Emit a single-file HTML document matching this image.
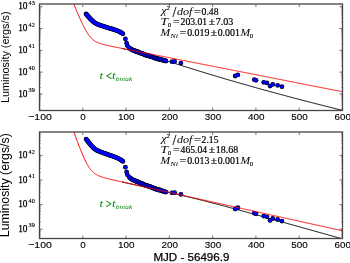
<!DOCTYPE html>
<html><head><meta charset="utf-8"><style>
html,body{margin:0;padding:0;background:#fff;width:350px;height:263px;overflow:hidden}
svg{display:block;will-change:transform}
</style></head><body>
<svg width="350" height="263" viewBox="0 0 350 263">
<style>
.tl { font-family: "Liberation Sans", sans-serif; font-size: 9.5px; fill:#000; stroke:#000; stroke-width:0.12px; }
.tls { font-family: "Liberation Serif", serif; font-size: 9.3px; fill:#000; stroke:#000; stroke-width:0.25px; }
.sup { font-family: "Liberation Serif", serif; font-size: 6.2px; fill:#000; stroke:#000; stroke-width:0.15px; }
.ann { font-family: "Liberation Serif", serif; fill:#000; stroke:#000; stroke-width:0.2px; }
.grn { font-family: "Liberation Serif", serif; fill:#008000; }
.yl { font-family: "Liberation Sans", sans-serif; fill:#000; }
text { -webkit-font-smoothing: antialiased; }
</style>
<rect width="350" height="263" fill="#fff"/>
<clipPath id="c1"><rect x="39.5" y="4.0" width="303.0" height="106.5"/></clipPath>
<g clip-path="url(#c1)">
<path d="M121.74,48.41 L122.48,48.57 L123.21,48.73 L123.95,48.89 L124.69,49.05 L125.42,49.21 L126.16,49.38 L126.89,49.55 L127.63,49.72 L128.37,49.89 L129.10,50.06 L129.84,50.23 L130.57,50.41 L131.31,50.59 L132.04,50.77 L132.78,50.96 L133.52,51.14 L134.25,51.33 L134.99,51.52 L135.72,51.71 L136.46,51.90 L137.20,52.10 L137.93,52.29 L138.67,52.49 L139.40,52.69 L140.14,52.89 L140.88,53.10 L141.61,53.30 L142.35,53.51 L143.08,53.72 L143.82,53.92 L144.55,54.14 L145.29,54.35 L146.03,54.56 L146.76,54.78 L147.50,54.99 L148.23,55.21 L148.97,55.43 L149.71,55.64 L150.44,55.86 L151.18,56.08 L151.91,56.31 L152.65,56.53 L153.38,56.75 L154.12,56.97 L154.86,57.20 L155.59,57.42 L156.33,57.65 L157.06,57.88 L157.80,58.10 L158.54,58.33 L159.27,58.56 L160.01,58.79 L160.74,59.02 L161.48,59.24 L162.22,59.47 L162.95,59.70 L163.69,59.93 L164.42,60.16 L165.16,60.40 L165.89,60.63 L166.63,60.86 L167.37,61.09 L168.10,61.32 L168.84,61.55 L169.57,61.78 L170.31,62.02 L171.05,62.25 L171.78,62.48 L172.52,62.71 L173.25,62.94 L173.99,63.18 L174.72,63.41 L175.46,63.64 L176.20,63.87 L176.93,64.10 L177.67,64.34 L178.40,64.57 L179.14,64.80 L179.88,65.03 L180.61,65.26 L181.35,65.49 L182.08,65.72 L182.82,65.96 L183.55,66.19 L184.29,66.42 L185.03,66.65 L185.76,66.88 L186.50,67.11 L187.23,67.34 L187.97,67.57 L188.71,67.80 L189.44,68.03 L190.18,68.26 L190.91,68.49 L191.65,68.72 L192.39,68.95 L193.12,69.18 L193.86,69.40 L194.59,69.63 L195.33,69.86 L196.06,70.09 L196.80,70.32 L197.54,70.54 L198.27,70.77 L199.01,71.00 L199.74,71.22 L200.48,71.45 L201.22,71.68 L201.95,71.90 L202.69,72.13 L203.42,72.35 L204.16,72.58 L204.89,72.80 L205.63,73.03 L206.37,73.25 L207.10,73.47 L207.84,73.70 L208.57,73.92 L209.31,74.14 L210.05,74.37 L210.78,74.59 L211.52,74.81 L212.25,75.03 L212.99,75.25 L213.72,75.48 L214.46,75.70 L215.20,75.92 L215.93,76.14 L216.67,76.36 L217.40,76.58 L218.14,76.80 L218.88,77.02 L219.61,77.24 L220.35,77.46 L221.08,77.67 L221.82,77.89 L222.56,78.11 L223.29,78.33 L224.03,78.54 L224.76,78.76 L225.50,78.98 L226.23,79.19 L226.97,79.41 L227.71,79.63 L228.44,79.84 L229.18,80.06 L229.91,80.27 L230.65,80.49 L231.39,80.70 L232.12,80.92 L232.86,81.13 L233.59,81.34 L234.33,81.56 L235.06,81.77 L235.80,81.98 L236.54,82.20 L237.27,82.41 L238.01,82.62 L238.74,82.83 L239.48,83.04 L240.22,83.25 L240.95,83.47 L241.69,83.68 L242.42,83.89 L243.16,84.10 L243.90,84.31 L244.63,84.52 L245.37,84.73 L246.10,84.93 L246.84,85.14 L247.57,85.35 L248.31,85.56 L249.05,85.77 L249.78,85.98 L250.52,86.18 L251.25,86.39 L251.99,86.60 L252.73,86.80 L253.46,87.01 L254.20,87.22 L254.93,87.42 L255.67,87.63 L256.40,87.83 L257.14,88.04 L257.88,88.24 L258.61,88.45 L259.35,88.65 L260.08,88.86 L260.82,89.06 L261.56,89.26 L262.29,89.47 L263.03,89.67 L263.76,89.87 L264.50,90.08 L265.24,90.28 L265.97,90.48 L266.71,90.68 L267.44,90.89 L268.18,91.09 L268.91,91.29 L269.65,91.49 L270.39,91.69 L271.12,91.89 L271.86,92.09 L272.59,92.29 L273.33,92.49 L274.07,92.69 L274.80,92.89 L275.54,93.09 L276.27,93.29 L277.01,93.49 L277.74,93.69 L278.48,93.88 L279.22,94.08 L279.95,94.28 L280.69,94.48 L281.42,94.67 L282.16,94.87 L282.90,95.07 L283.63,95.27 L284.37,95.46 L285.10,95.66 L285.84,95.86 L286.57,96.05 L287.31,96.25 L288.05,96.44 L288.78,96.64 L289.52,96.83 L290.25,97.03 L290.99,97.22 L291.73,97.42 L292.46,97.61 L293.20,97.81 L293.93,98.00 L294.67,98.19 L295.41,98.39 L296.14,98.58 L296.88,98.77 L297.61,98.97 L298.35,99.16 L299.08,99.35 L299.82,99.54 L300.56,99.74 L301.29,99.93 L302.03,100.12 L302.76,100.31 L303.50,100.50 L304.24,100.69 L304.97,100.88 L305.71,101.08 L306.44,101.27 L307.18,101.46 L307.91,101.65 L308.65,101.84 L309.39,102.03 L310.12,102.22 L310.86,102.41 L311.59,102.60 L312.33,102.79 L313.07,102.97 L313.80,103.16 L314.54,103.35 L315.27,103.54 L316.01,103.73 L316.75,103.92 L317.48,104.10 L318.22,104.29 L318.95,104.48 L319.69,104.67 L320.42,104.86 L321.16,105.04 L321.90,105.23 L322.63,105.42 L323.37,105.60 L324.10,105.79 L324.84,105.98 L325.58,106.16 L326.31,106.35 L327.05,106.53 L327.78,106.72 L328.52,106.90 L329.25,107.09 L329.99,107.28 L330.73,107.46 L331.46,107.65 L332.20,107.83 L332.93,108.01 L333.67,108.20 L334.41,108.38 L335.14,108.57 L335.88,108.75 L336.61,108.93 L337.35,109.12 L338.08,109.30 L338.82,109.49 L339.56,109.67 L340.29,109.85 L341.03,110.03 L341.76,110.22 L342.50,110.40" fill="none" stroke="#000" stroke-width="1"/>
<g fill="#000">
<circle cx="86.10" cy="14.00" r="2.40"/>
<circle cx="86.73" cy="14.73" r="2.40"/>
<circle cx="87.37" cy="15.47" r="2.40"/>
<circle cx="88.00" cy="16.20" r="2.40"/>
<circle cx="88.67" cy="16.97" r="2.40"/>
<circle cx="89.33" cy="17.73" r="2.40"/>
<circle cx="90.00" cy="18.50" r="2.40"/>
<circle cx="90.67" cy="19.17" r="2.40"/>
<circle cx="91.33" cy="19.83" r="2.40"/>
<circle cx="92.00" cy="20.50" r="2.40"/>
<circle cx="92.67" cy="21.10" r="2.40"/>
<circle cx="93.33" cy="21.70" r="2.40"/>
<circle cx="94.00" cy="22.30" r="2.40"/>
<circle cx="95.00" cy="22.95" r="2.40"/>
<circle cx="96.00" cy="23.60" r="2.40"/>
<circle cx="96.75" cy="23.93" r="2.40"/>
<circle cx="97.50" cy="24.25" r="2.40"/>
<circle cx="98.25" cy="24.57" r="2.40"/>
<circle cx="99.00" cy="24.90" r="2.40"/>
<circle cx="100.00" cy="25.23" r="2.40"/>
<circle cx="101.00" cy="25.57" r="2.40"/>
<circle cx="102.00" cy="25.90" r="2.40"/>
<circle cx="103.00" cy="26.20" r="2.40"/>
<circle cx="104.00" cy="26.50" r="2.40"/>
<circle cx="105.00" cy="26.80" r="2.40"/>
<circle cx="106.00" cy="27.13" r="2.40"/>
<circle cx="107.00" cy="27.47" r="2.40"/>
<circle cx="108.00" cy="27.80" r="2.40"/>
<circle cx="109.00" cy="28.10" r="2.40"/>
<circle cx="110.00" cy="28.40" r="2.40"/>
<circle cx="111.00" cy="28.70" r="2.40"/>
<circle cx="112.00" cy="29.00" r="2.40"/>
<circle cx="113.00" cy="29.30" r="2.40"/>
<circle cx="114.00" cy="29.60" r="2.40"/>
<circle cx="115.00" cy="29.95" r="2.40"/>
<circle cx="116.00" cy="30.30" r="2.40"/>
<circle cx="117.00" cy="30.70" r="2.40"/>
<circle cx="118.00" cy="31.10" r="2.40"/>
<circle cx="119.00" cy="31.55" r="2.40"/>
<circle cx="120.00" cy="32.00" r="2.40"/>
<circle cx="120.75" cy="32.45" r="2.40"/>
<circle cx="121.50" cy="32.90" r="2.40"/>
<circle cx="122.20" cy="33.35" r="2.40"/>
<circle cx="122.90" cy="33.80" r="2.40"/>
<circle cx="125.40" cy="38.90" r="2.40"/>
<circle cx="126.60" cy="43.10" r="2.40"/>
<circle cx="127.40" cy="45.70" r="2.40"/>
<circle cx="129.40" cy="48.00" r="2.40"/>
<circle cx="130.20" cy="48.60" r="2.40"/>
<circle cx="131.00" cy="49.20" r="2.40"/>
<circle cx="132.00" cy="49.70" r="2.40"/>
<circle cx="133.00" cy="50.20" r="2.40"/>
<circle cx="134.00" cy="50.60" r="2.40"/>
<circle cx="135.00" cy="51.00" r="2.40"/>
<circle cx="136.00" cy="51.33" r="2.40"/>
<circle cx="137.00" cy="51.67" r="2.40"/>
<circle cx="138.00" cy="52.00" r="2.40"/>
<circle cx="139.00" cy="52.45" r="2.40"/>
<circle cx="140.00" cy="52.90" r="2.40"/>
<circle cx="141.00" cy="53.27" r="2.40"/>
<circle cx="142.00" cy="53.63" r="2.40"/>
<circle cx="143.00" cy="54.00" r="2.40"/>
<circle cx="144.00" cy="54.37" r="2.40"/>
<circle cx="145.00" cy="54.73" r="2.40"/>
<circle cx="146.00" cy="55.10" r="2.40"/>
<circle cx="147.00" cy="55.40" r="2.40"/>
<circle cx="148.00" cy="55.70" r="2.40"/>
<circle cx="149.00" cy="56.00" r="2.40"/>
<circle cx="150.00" cy="56.30" r="2.40"/>
<circle cx="151.00" cy="56.60" r="2.40"/>
<circle cx="152.00" cy="56.90" r="2.40"/>
<circle cx="153.00" cy="57.23" r="2.40"/>
<circle cx="154.00" cy="57.57" r="2.40"/>
<circle cx="155.00" cy="57.90" r="2.40"/>
<circle cx="156.00" cy="58.20" r="2.40"/>
<circle cx="157.00" cy="58.50" r="2.40"/>
<circle cx="158.00" cy="58.80" r="2.40"/>
<circle cx="159.00" cy="59.10" r="2.40"/>
<circle cx="160.00" cy="59.40" r="2.40"/>
<circle cx="161.00" cy="59.70" r="2.40"/>
<circle cx="162.00" cy="59.97" r="2.40"/>
<circle cx="163.00" cy="60.23" r="2.40"/>
<circle cx="164.00" cy="60.50" r="2.40"/>
<circle cx="165.00" cy="60.75" r="2.40"/>
<circle cx="166.00" cy="61.00" r="2.40"/>
<circle cx="172.00" cy="61.70" r="2.40"/>
<circle cx="174.60" cy="61.40" r="2.40"/>
<circle cx="180.90" cy="63.10" r="2.40"/>
<circle cx="235.20" cy="76.00" r="2.40"/>
<circle cx="237.85" cy="74.90" r="2.40"/>
<circle cx="254.30" cy="79.70" r="2.40"/>
<circle cx="256.00" cy="80.30" r="2.40"/>
<circle cx="263.70" cy="82.30" r="2.40"/>
<circle cx="266.90" cy="82.90" r="2.40"/>
<circle cx="270.10" cy="86.10" r="2.40"/>
<circle cx="272.70" cy="84.40" r="2.40"/>
<circle cx="277.60" cy="85.30" r="2.40"/>
<circle cx="281.90" cy="86.70" r="2.40"/>
</g>
<g fill="#0000ff">
<circle cx="86.10" cy="14.00" r="1.75"/>
<circle cx="86.73" cy="14.73" r="1.75"/>
<circle cx="87.37" cy="15.47" r="1.75"/>
<circle cx="88.00" cy="16.20" r="1.75"/>
<circle cx="88.67" cy="16.97" r="1.75"/>
<circle cx="89.33" cy="17.73" r="1.75"/>
<circle cx="90.00" cy="18.50" r="1.75"/>
<circle cx="90.67" cy="19.17" r="1.75"/>
<circle cx="91.33" cy="19.83" r="1.75"/>
<circle cx="92.00" cy="20.50" r="1.75"/>
<circle cx="92.67" cy="21.10" r="1.75"/>
<circle cx="93.33" cy="21.70" r="1.75"/>
<circle cx="94.00" cy="22.30" r="1.75"/>
<circle cx="95.00" cy="22.95" r="1.75"/>
<circle cx="96.00" cy="23.60" r="1.75"/>
<circle cx="96.75" cy="23.93" r="1.75"/>
<circle cx="97.50" cy="24.25" r="1.75"/>
<circle cx="98.25" cy="24.57" r="1.75"/>
<circle cx="99.00" cy="24.90" r="1.75"/>
<circle cx="100.00" cy="25.23" r="1.75"/>
<circle cx="101.00" cy="25.57" r="1.75"/>
<circle cx="102.00" cy="25.90" r="1.75"/>
<circle cx="103.00" cy="26.20" r="1.75"/>
<circle cx="104.00" cy="26.50" r="1.75"/>
<circle cx="105.00" cy="26.80" r="1.75"/>
<circle cx="106.00" cy="27.13" r="1.75"/>
<circle cx="107.00" cy="27.47" r="1.75"/>
<circle cx="108.00" cy="27.80" r="1.75"/>
<circle cx="109.00" cy="28.10" r="1.75"/>
<circle cx="110.00" cy="28.40" r="1.75"/>
<circle cx="111.00" cy="28.70" r="1.75"/>
<circle cx="112.00" cy="29.00" r="1.75"/>
<circle cx="113.00" cy="29.30" r="1.75"/>
<circle cx="114.00" cy="29.60" r="1.75"/>
<circle cx="115.00" cy="29.95" r="1.75"/>
<circle cx="116.00" cy="30.30" r="1.75"/>
<circle cx="117.00" cy="30.70" r="1.75"/>
<circle cx="118.00" cy="31.10" r="1.75"/>
<circle cx="119.00" cy="31.55" r="1.75"/>
<circle cx="120.00" cy="32.00" r="1.75"/>
<circle cx="120.75" cy="32.45" r="1.75"/>
<circle cx="121.50" cy="32.90" r="1.75"/>
<circle cx="122.20" cy="33.35" r="1.75"/>
<circle cx="122.90" cy="33.80" r="1.75"/>
<circle cx="125.40" cy="38.90" r="1.75"/>
<circle cx="126.60" cy="43.10" r="1.75"/>
<circle cx="127.40" cy="45.70" r="1.75"/>
<circle cx="129.40" cy="48.00" r="1.75"/>
<circle cx="130.20" cy="48.60" r="1.75"/>
<circle cx="131.00" cy="49.20" r="1.75"/>
<circle cx="132.00" cy="49.70" r="1.75"/>
<circle cx="133.00" cy="50.20" r="1.75"/>
<circle cx="134.00" cy="50.60" r="1.75"/>
<circle cx="135.00" cy="51.00" r="1.75"/>
<circle cx="136.00" cy="51.33" r="1.75"/>
<circle cx="137.00" cy="51.67" r="1.75"/>
<circle cx="138.00" cy="52.00" r="1.75"/>
<circle cx="139.00" cy="52.45" r="1.75"/>
<circle cx="140.00" cy="52.90" r="1.75"/>
<circle cx="141.00" cy="53.27" r="1.75"/>
<circle cx="142.00" cy="53.63" r="1.75"/>
<circle cx="143.00" cy="54.00" r="1.75"/>
<circle cx="144.00" cy="54.37" r="1.75"/>
<circle cx="145.00" cy="54.73" r="1.75"/>
<circle cx="146.00" cy="55.10" r="1.75"/>
<circle cx="147.00" cy="55.40" r="1.75"/>
<circle cx="148.00" cy="55.70" r="1.75"/>
<circle cx="149.00" cy="56.00" r="1.75"/>
<circle cx="150.00" cy="56.30" r="1.75"/>
<circle cx="151.00" cy="56.60" r="1.75"/>
<circle cx="152.00" cy="56.90" r="1.75"/>
<circle cx="153.00" cy="57.23" r="1.75"/>
<circle cx="154.00" cy="57.57" r="1.75"/>
<circle cx="155.00" cy="57.90" r="1.75"/>
<circle cx="156.00" cy="58.20" r="1.75"/>
<circle cx="157.00" cy="58.50" r="1.75"/>
<circle cx="158.00" cy="58.80" r="1.75"/>
<circle cx="159.00" cy="59.10" r="1.75"/>
<circle cx="160.00" cy="59.40" r="1.75"/>
<circle cx="161.00" cy="59.70" r="1.75"/>
<circle cx="162.00" cy="59.97" r="1.75"/>
<circle cx="163.00" cy="60.23" r="1.75"/>
<circle cx="164.00" cy="60.50" r="1.75"/>
<circle cx="165.00" cy="60.75" r="1.75"/>
<circle cx="166.00" cy="61.00" r="1.75"/>
<circle cx="172.00" cy="61.70" r="1.75"/>
<circle cx="174.60" cy="61.40" r="1.75"/>
<circle cx="180.90" cy="63.10" r="1.75"/>
<circle cx="235.20" cy="76.00" r="1.75"/>
<circle cx="237.85" cy="74.90" r="1.75"/>
<circle cx="254.30" cy="79.70" r="1.75"/>
<circle cx="256.00" cy="80.30" r="1.75"/>
<circle cx="263.70" cy="82.30" r="1.75"/>
<circle cx="266.90" cy="82.90" r="1.75"/>
<circle cx="270.10" cy="86.10" r="1.75"/>
<circle cx="272.70" cy="84.40" r="1.75"/>
<circle cx="277.60" cy="85.30" r="1.75"/>
<circle cx="281.90" cy="86.70" r="1.75"/>
</g>
<g fill="#0000ff" stroke="#000" stroke-width="0.5">
<circle cx="131.84" cy="49.75" r="1.90"/>
<circle cx="132.92" cy="50.32" r="1.90"/>
<circle cx="135.08" cy="50.48" r="1.90"/>
<circle cx="136.21" cy="51.90" r="1.90"/>
<circle cx="137.86" cy="51.68" r="1.90"/>
<circle cx="140.30" cy="52.86" r="1.90"/>
<circle cx="141.70" cy="53.42" r="1.90"/>
<circle cx="143.08" cy="53.58" r="1.90"/>
<circle cx="144.58" cy="54.99" r="1.90"/>
<circle cx="146.01" cy="55.39" r="1.90"/>
<circle cx="147.60" cy="55.03" r="1.90"/>
<circle cx="149.15" cy="56.11" r="1.90"/>
<circle cx="150.38" cy="55.89" r="1.90"/>
<circle cx="152.22" cy="56.87" r="1.90"/>
<circle cx="153.63" cy="57.85" r="1.90"/>
<circle cx="155.13" cy="58.41" r="1.90"/>
<circle cx="156.44" cy="58.71" r="1.90"/>
<circle cx="157.97" cy="59.32" r="1.90"/>
<circle cx="159.73" cy="58.77" r="1.90"/>
<circle cx="160.78" cy="59.36" r="1.90"/>
<circle cx="162.78" cy="60.02" r="1.90"/>
<circle cx="164.08" cy="60.26" r="1.90"/>
</g>
<path d="M71.96,-0.48 L72.42,0.63 L72.87,1.73 L73.32,2.83 L73.77,3.92 L74.22,5.02 L74.67,6.11 L75.12,7.20 L75.57,8.28 L76.02,9.36 L76.47,10.43 L76.92,11.50 L77.38,12.57 L77.83,13.63 L78.28,14.68 L78.73,15.72 L79.18,16.76 L79.63,17.79 L80.08,18.80 L80.53,19.81 L80.98,20.81 L81.43,21.79 L81.88,22.76 L82.33,23.72 L82.79,24.65 L83.24,25.58 L83.69,26.48 L84.14,27.37 L84.59,28.23 L85.04,29.08 L85.49,29.90 L85.94,30.69 L86.39,31.47 L86.84,32.21 L87.29,32.93 L87.75,33.63 L88.20,34.29 L88.65,34.93 L89.10,35.54 L89.55,36.12 L90.00,36.68 L90.45,37.20 L90.90,37.70 L91.35,38.18 L91.80,38.62 L92.25,39.04 L92.71,39.44 L93.16,39.81 L93.61,40.17 L94.06,40.50 L94.51,40.81 L94.96,41.10 L95.41,41.38 L95.86,41.64 L96.31,41.89 L96.76,42.12 L97.21,42.33 L97.67,42.54 L98.12,42.74 L98.57,42.92 L99.02,43.10 L99.47,43.27 L99.92,43.43 L100.37,43.58 L100.82,43.73 L101.27,43.87 L101.72,44.00 L102.17,44.14 L102.62,44.26 L103.08,44.39 L103.53,44.51 L103.98,44.62 L104.43,44.74 L104.88,44.85 L105.33,44.96 L105.78,45.06 L106.23,45.17 L106.68,45.27 L107.13,45.37 L107.58,45.47 L108.04,45.57 L108.49,45.67 L108.94,45.77 L109.39,45.87 L109.84,45.96 L110.29,46.06 L110.74,46.15 L111.19,46.24 L111.64,46.34 L112.09,46.43 L112.54,46.52 L113.00,46.61 L113.45,46.71 L113.90,46.80 L114.35,46.89 L114.80,46.98 L115.25,47.07 L115.70,47.16 L116.15,47.25 L116.60,47.34 L117.05,47.43 L117.50,47.52 L117.96,47.61 L118.41,47.70 L118.86,47.79 L119.31,47.88 L119.76,47.97 L120.21,48.05 L120.66,48.14 L121.11,48.23 L121.56,48.32 L122.01,48.41 L122.46,48.50 L122.92,48.59 L123.37,48.68 L123.82,48.77 L124.27,48.86 L124.72,48.94 L125.17,49.03 L125.62,49.12 L126.07,49.21 L126.52,49.30 L126.97,49.39 L127.42,49.48 L127.88,49.57 L128.33,49.65 L128.78,49.74 L129.23,49.83 L129.68,49.92 L130.13,50.01 L130.58,50.10 L131.03,50.19 L131.48,50.27 L131.93,50.36 L132.38,50.45 L132.83,50.54 L133.29,50.63 L133.74,50.72 L134.19,50.81 L134.64,50.90 L135.09,50.98 L135.54,51.07 L135.99,51.16 L136.44,51.25 L136.89,51.34 L137.34,51.43 L137.79,51.52 L138.25,51.60 L138.70,51.69 L139.15,51.78 L139.60,51.87 L140.05,51.96 L140.50,52.05 L140.95,52.14 L141.40,52.22 L141.85,52.31 L142.30,52.40 L142.75,52.49 L143.21,52.58 L143.66,52.67 L144.11,52.76 L144.56,52.84 L145.01,52.93 L145.46,53.02 L145.91,53.11 L146.36,53.20 L146.81,53.29 L147.26,53.38 L147.71,53.46 L148.17,53.55 L148.62,53.64 L149.07,53.73 L149.52,53.82 L149.97,53.91 L150.42,54.00 L150.87,54.09 L151.32,54.17 L151.77,54.26 L152.22,54.35 L152.67,54.44 L153.12,54.53 L153.58,54.62 L154.03,54.71 L154.48,54.79 L154.93,54.88 L155.38,54.97 L155.83,55.06 L156.28,55.15 L156.73,55.24 L157.18,55.33 L157.63,55.41 L158.08,55.50 L158.54,55.59 L158.99,55.68 L159.44,55.77 L159.89,55.86 L160.34,55.95 L160.79,56.03 L161.24,56.12 L161.69,56.21 L162.14,56.30 L162.59,56.39 L163.04,56.48 L163.50,56.57 L163.95,56.65 L164.40,56.74 L164.85,56.83 L165.30,56.92 L165.75,57.01 L166.20,57.10 L166.65,57.19 L167.10,57.28 L167.55,57.36 L168.00,57.45 L168.46,57.54 L168.91,57.63 L169.36,57.72 L169.81,57.81 L170.26,57.90 L170.71,57.98 L171.16,58.07 L171.61,58.16 L172.06,58.25 L172.51,58.34 L172.96,58.43 L173.42,58.52 L173.87,58.60 L174.32,58.69 L174.77,58.78 L175.22,58.87 L175.67,58.96 L176.12,59.05 L176.57,59.14 L177.02,59.22 L177.47,59.31 L177.92,59.40 L178.38,59.49 L178.83,59.58 L179.28,59.67 L179.73,59.76 L180.18,59.84 L180.63,59.93 L181.08,60.02 L181.53,60.11 L181.98,60.20 L182.43,60.29 L182.88,60.38 L183.33,60.47 L183.79,60.55 L184.24,60.64 L184.69,60.73 L185.14,60.82 L185.59,60.91 L186.04,61.00 L186.49,61.09 L186.94,61.17 L187.39,61.26 L187.84,61.35 L188.29,61.44 L188.75,61.53 L189.20,61.62 L189.65,61.71 L190.10,61.79 L190.55,61.88 L191.00,61.97 L191.45,62.06 L191.90,62.15 L192.35,62.24 L192.80,62.33 L193.25,62.41 L193.71,62.50 L194.16,62.59 L194.61,62.68 L195.06,62.77 L195.51,62.86 L195.96,62.95 L196.41,63.03 L196.86,63.12 L197.31,63.21 L197.76,63.30 L198.21,63.39 L198.67,63.48 L199.12,63.57 L199.57,63.65 L200.02,63.74 L200.47,63.83 L200.92,63.92 L201.37,64.01 L201.82,64.10 L202.27,64.19 L202.72,64.28 L203.17,64.36 L203.62,64.45 L204.08,64.54 L204.53,64.63 L204.98,64.72 L205.43,64.81 L205.88,64.90 L206.33,64.98 L206.78,65.07 L207.23,65.16 L207.68,65.25 L208.13,65.34 L208.58,65.43 L209.04,65.52 L209.49,65.60 L209.94,65.69 L210.39,65.78 L210.84,65.87 L211.29,65.96 L211.74,66.05 L212.19,66.14 L212.64,66.22 L213.09,66.31 L213.54,66.40 L214.00,66.49 L214.45,66.58 L214.90,66.67 L215.35,66.76 L215.80,66.84 L216.25,66.93 L216.70,67.02 L217.15,67.11 L217.60,67.20 L218.05,67.29 L218.50,67.38 L218.96,67.47 L219.41,67.55 L219.86,67.64 L220.31,67.73 L220.76,67.82 L221.21,67.91 L221.66,68.00 L222.11,68.09 L222.56,68.17 L223.01,68.26 L223.46,68.35 L223.92,68.44 L224.37,68.53 L224.82,68.62 L225.27,68.71 L225.72,68.79 L226.17,68.88 L226.62,68.97 L227.07,69.06 L227.52,69.15 L227.97,69.24 L228.42,69.33 L228.88,69.41 L229.33,69.50 L229.78,69.59 L230.23,69.68 L230.68,69.77 L231.13,69.86 L231.58,69.95 L232.03,70.03 L232.48,70.12 L232.93,70.21 L233.38,70.30 L233.83,70.39 L234.29,70.48 L234.74,70.57 L235.19,70.65 L235.64,70.74 L236.09,70.83 L236.54,70.92 L236.99,71.01 L237.44,71.10 L237.89,71.19 L238.34,71.28 L238.79,71.36 L239.25,71.45 L239.70,71.54 L240.15,71.63 L240.60,71.72 L241.05,71.81 L241.50,71.90 L241.95,71.98 L242.40,72.07 L242.85,72.16 L243.30,72.25 L243.75,72.34 L244.21,72.43 L244.66,72.52 L245.11,72.60 L245.56,72.69 L246.01,72.78 L246.46,72.87 L246.91,72.96 L247.36,73.05 L247.81,73.14 L248.26,73.22 L248.71,73.31 L249.17,73.40 L249.62,73.49 L250.07,73.58 L250.52,73.67 L250.97,73.76 L251.42,73.84 L251.87,73.93 L252.32,74.02 L252.77,74.11 L253.22,74.20 L253.67,74.29 L254.12,74.38 L254.58,74.47 L255.03,74.55 L255.48,74.64 L255.93,74.73 L256.38,74.82 L256.83,74.91 L257.28,75.00 L257.73,75.09 L258.18,75.17 L258.63,75.26 L259.08,75.35 L259.54,75.44 L259.99,75.53 L260.44,75.62 L260.89,75.71 L261.34,75.79 L261.79,75.88 L262.24,75.97 L262.69,76.06 L263.14,76.15 L263.59,76.24 L264.04,76.33 L264.50,76.41 L264.95,76.50 L265.40,76.59 L265.85,76.68 L266.30,76.77 L266.75,76.86 L267.20,76.95 L267.65,77.03 L268.10,77.12 L268.55,77.21 L269.00,77.30 L269.46,77.39 L269.91,77.48 L270.36,77.57 L270.81,77.66 L271.26,77.74 L271.71,77.83 L272.16,77.92 L272.61,78.01 L273.06,78.10 L273.51,78.19 L273.96,78.28 L274.42,78.36 L274.87,78.45 L275.32,78.54 L275.77,78.63 L276.22,78.72 L276.67,78.81 L277.12,78.90 L277.57,78.98 L278.02,79.07 L278.47,79.16 L278.92,79.25 L279.38,79.34 L279.83,79.43 L280.28,79.52 L280.73,79.60 L281.18,79.69 L281.63,79.78 L282.08,79.87 L282.53,79.96 L282.98,80.05 L283.43,80.14 L283.88,80.22 L284.33,80.31 L284.79,80.40 L285.24,80.49 L285.69,80.58 L286.14,80.67 L286.59,80.76 L287.04,80.84 L287.49,80.93 L287.94,81.02 L288.39,81.11 L288.84,81.20 L289.29,81.29 L289.75,81.38 L290.20,81.47 L290.65,81.55 L291.10,81.64 L291.55,81.73 L292.00,81.82 L292.45,81.91 L292.90,82.00 L293.35,82.09 L293.80,82.17 L294.25,82.26 L294.71,82.35 L295.16,82.44 L295.61,82.53 L296.06,82.62 L296.51,82.71 L296.96,82.79 L297.41,82.88 L297.86,82.97 L298.31,83.06 L298.76,83.15 L299.21,83.24 L299.67,83.33 L300.12,83.41 L300.57,83.50 L301.02,83.59 L301.47,83.68 L301.92,83.77 L302.37,83.86 L302.82,83.95 L303.27,84.03 L303.72,84.12 L304.17,84.21 L304.62,84.30 L305.08,84.39 L305.53,84.48 L305.98,84.57 L306.43,84.66 L306.88,84.74 L307.33,84.83 L307.78,84.92 L308.23,85.01 L308.68,85.10 L309.13,85.19 L309.58,85.28 L310.04,85.36 L310.49,85.45 L310.94,85.54 L311.39,85.63 L311.84,85.72 L312.29,85.81 L312.74,85.90 L313.19,85.98 L313.64,86.07 L314.09,86.16 L314.54,86.25 L315.00,86.34 L315.45,86.43 L315.90,86.52 L316.35,86.60 L316.80,86.69 L317.25,86.78 L317.70,86.87 L318.15,86.96 L318.60,87.05 L319.05,87.14 L319.50,87.22 L319.96,87.31 L320.41,87.40 L320.86,87.49 L321.31,87.58 L321.76,87.67 L322.21,87.76 L322.66,87.84 L323.11,87.93 L323.56,88.02 L324.01,88.11 L324.46,88.20 L324.92,88.29 L325.37,88.38 L325.82,88.47 L326.27,88.55 L326.72,88.64 L327.17,88.73 L327.62,88.82 L328.07,88.91 L328.52,89.00 L328.97,89.09 L329.42,89.17 L329.88,89.26 L330.33,89.35 L330.78,89.44 L331.23,89.53 L331.68,89.62 L332.13,89.71 L332.58,89.79 L333.03,89.88 L333.48,89.97 L333.93,90.06 L334.38,90.15 L334.83,90.24 L335.29,90.33 L335.74,90.41 L336.19,90.50 L336.64,90.59 L337.09,90.68 L337.54,90.77 L337.99,90.86 L338.44,90.95 L338.89,91.03 L339.34,91.12 L339.79,91.21 L340.25,91.30 L340.70,91.39 L341.15,91.48 L341.60,91.57 L342.05,91.66 L342.50,91.74" fill="none" stroke="#ff0000" stroke-width="1"/>
</g>
<g stroke="#000" stroke-width="0.55">
<line x1="39.50" y1="110.5" x2="39.50" y2="107.5"/>
<line x1="39.50" y1="4.0" x2="39.50" y2="7.0"/>
<line x1="82.79" y1="110.5" x2="82.79" y2="107.5"/>
<line x1="82.79" y1="4.0" x2="82.79" y2="7.0"/>
<line x1="126.07" y1="110.5" x2="126.07" y2="107.5"/>
<line x1="126.07" y1="4.0" x2="126.07" y2="7.0"/>
<line x1="169.36" y1="110.5" x2="169.36" y2="107.5"/>
<line x1="169.36" y1="4.0" x2="169.36" y2="7.0"/>
<line x1="212.64" y1="110.5" x2="212.64" y2="107.5"/>
<line x1="212.64" y1="4.0" x2="212.64" y2="7.0"/>
<line x1="255.93" y1="110.5" x2="255.93" y2="107.5"/>
<line x1="255.93" y1="4.0" x2="255.93" y2="7.0"/>
<line x1="299.21" y1="110.5" x2="299.21" y2="107.5"/>
<line x1="299.21" y1="4.0" x2="299.21" y2="7.0"/>
<line x1="342.50" y1="110.5" x2="342.50" y2="107.5"/>
<line x1="342.50" y1="4.0" x2="342.50" y2="7.0"/>
<line x1="39.5" y1="109.14" x2="41.0" y2="109.14" stroke-width="0.35"/>
<line x1="342.5" y1="109.14" x2="341.0" y2="109.14" stroke-width="0.35"/>
<line x1="39.5" y1="105.30" x2="41.0" y2="105.30" stroke-width="0.35"/>
<line x1="342.5" y1="105.30" x2="341.0" y2="105.30" stroke-width="0.35"/>
<line x1="39.5" y1="102.58" x2="41.0" y2="102.58" stroke-width="0.35"/>
<line x1="342.5" y1="102.58" x2="341.0" y2="102.58" stroke-width="0.35"/>
<line x1="39.5" y1="100.46" x2="41.0" y2="100.46" stroke-width="0.35"/>
<line x1="342.5" y1="100.46" x2="341.0" y2="100.46" stroke-width="0.35"/>
<line x1="39.5" y1="98.74" x2="41.0" y2="98.74" stroke-width="0.35"/>
<line x1="342.5" y1="98.74" x2="341.0" y2="98.74" stroke-width="0.35"/>
<line x1="39.5" y1="97.28" x2="41.0" y2="97.28" stroke-width="0.35"/>
<line x1="342.5" y1="97.28" x2="341.0" y2="97.28" stroke-width="0.35"/>
<line x1="39.5" y1="96.01" x2="41.0" y2="96.01" stroke-width="0.35"/>
<line x1="342.5" y1="96.01" x2="341.0" y2="96.01" stroke-width="0.35"/>
<line x1="39.5" y1="94.90" x2="41.0" y2="94.90" stroke-width="0.35"/>
<line x1="342.5" y1="94.90" x2="341.0" y2="94.90" stroke-width="0.35"/>
<line x1="39.5" y1="93.90" x2="42.5" y2="93.90"/>
<line x1="342.5" y1="93.90" x2="339.5" y2="93.90"/>
<line x1="39.5" y1="87.34" x2="41.0" y2="87.34" stroke-width="0.35"/>
<line x1="342.5" y1="87.34" x2="341.0" y2="87.34" stroke-width="0.35"/>
<line x1="39.5" y1="83.50" x2="41.0" y2="83.50" stroke-width="0.35"/>
<line x1="342.5" y1="83.50" x2="341.0" y2="83.50" stroke-width="0.35"/>
<line x1="39.5" y1="80.78" x2="41.0" y2="80.78" stroke-width="0.35"/>
<line x1="342.5" y1="80.78" x2="341.0" y2="80.78" stroke-width="0.35"/>
<line x1="39.5" y1="78.66" x2="41.0" y2="78.66" stroke-width="0.35"/>
<line x1="342.5" y1="78.66" x2="341.0" y2="78.66" stroke-width="0.35"/>
<line x1="39.5" y1="76.94" x2="41.0" y2="76.94" stroke-width="0.35"/>
<line x1="342.5" y1="76.94" x2="341.0" y2="76.94" stroke-width="0.35"/>
<line x1="39.5" y1="75.48" x2="41.0" y2="75.48" stroke-width="0.35"/>
<line x1="342.5" y1="75.48" x2="341.0" y2="75.48" stroke-width="0.35"/>
<line x1="39.5" y1="74.21" x2="41.0" y2="74.21" stroke-width="0.35"/>
<line x1="342.5" y1="74.21" x2="341.0" y2="74.21" stroke-width="0.35"/>
<line x1="39.5" y1="73.10" x2="41.0" y2="73.10" stroke-width="0.35"/>
<line x1="342.5" y1="73.10" x2="341.0" y2="73.10" stroke-width="0.35"/>
<line x1="39.5" y1="72.10" x2="42.5" y2="72.10"/>
<line x1="342.5" y1="72.10" x2="339.5" y2="72.10"/>
<line x1="39.5" y1="65.54" x2="41.0" y2="65.54" stroke-width="0.35"/>
<line x1="342.5" y1="65.54" x2="341.0" y2="65.54" stroke-width="0.35"/>
<line x1="39.5" y1="61.70" x2="41.0" y2="61.70" stroke-width="0.35"/>
<line x1="342.5" y1="61.70" x2="341.0" y2="61.70" stroke-width="0.35"/>
<line x1="39.5" y1="58.98" x2="41.0" y2="58.98" stroke-width="0.35"/>
<line x1="342.5" y1="58.98" x2="341.0" y2="58.98" stroke-width="0.35"/>
<line x1="39.5" y1="56.86" x2="41.0" y2="56.86" stroke-width="0.35"/>
<line x1="342.5" y1="56.86" x2="341.0" y2="56.86" stroke-width="0.35"/>
<line x1="39.5" y1="55.14" x2="41.0" y2="55.14" stroke-width="0.35"/>
<line x1="342.5" y1="55.14" x2="341.0" y2="55.14" stroke-width="0.35"/>
<line x1="39.5" y1="53.68" x2="41.0" y2="53.68" stroke-width="0.35"/>
<line x1="342.5" y1="53.68" x2="341.0" y2="53.68" stroke-width="0.35"/>
<line x1="39.5" y1="52.41" x2="41.0" y2="52.41" stroke-width="0.35"/>
<line x1="342.5" y1="52.41" x2="341.0" y2="52.41" stroke-width="0.35"/>
<line x1="39.5" y1="51.30" x2="41.0" y2="51.30" stroke-width="0.35"/>
<line x1="342.5" y1="51.30" x2="341.0" y2="51.30" stroke-width="0.35"/>
<line x1="39.5" y1="50.30" x2="42.5" y2="50.30"/>
<line x1="342.5" y1="50.30" x2="339.5" y2="50.30"/>
<line x1="39.5" y1="43.74" x2="41.0" y2="43.74" stroke-width="0.35"/>
<line x1="342.5" y1="43.74" x2="341.0" y2="43.74" stroke-width="0.35"/>
<line x1="39.5" y1="39.90" x2="41.0" y2="39.90" stroke-width="0.35"/>
<line x1="342.5" y1="39.90" x2="341.0" y2="39.90" stroke-width="0.35"/>
<line x1="39.5" y1="37.18" x2="41.0" y2="37.18" stroke-width="0.35"/>
<line x1="342.5" y1="37.18" x2="341.0" y2="37.18" stroke-width="0.35"/>
<line x1="39.5" y1="35.06" x2="41.0" y2="35.06" stroke-width="0.35"/>
<line x1="342.5" y1="35.06" x2="341.0" y2="35.06" stroke-width="0.35"/>
<line x1="39.5" y1="33.34" x2="41.0" y2="33.34" stroke-width="0.35"/>
<line x1="342.5" y1="33.34" x2="341.0" y2="33.34" stroke-width="0.35"/>
<line x1="39.5" y1="31.88" x2="41.0" y2="31.88" stroke-width="0.35"/>
<line x1="342.5" y1="31.88" x2="341.0" y2="31.88" stroke-width="0.35"/>
<line x1="39.5" y1="30.61" x2="41.0" y2="30.61" stroke-width="0.35"/>
<line x1="342.5" y1="30.61" x2="341.0" y2="30.61" stroke-width="0.35"/>
<line x1="39.5" y1="29.50" x2="41.0" y2="29.50" stroke-width="0.35"/>
<line x1="342.5" y1="29.50" x2="341.0" y2="29.50" stroke-width="0.35"/>
<line x1="39.5" y1="28.50" x2="42.5" y2="28.50"/>
<line x1="342.5" y1="28.50" x2="339.5" y2="28.50"/>
<line x1="39.5" y1="21.94" x2="41.0" y2="21.94" stroke-width="0.35"/>
<line x1="342.5" y1="21.94" x2="341.0" y2="21.94" stroke-width="0.35"/>
<line x1="39.5" y1="18.10" x2="41.0" y2="18.10" stroke-width="0.35"/>
<line x1="342.5" y1="18.10" x2="341.0" y2="18.10" stroke-width="0.35"/>
<line x1="39.5" y1="15.38" x2="41.0" y2="15.38" stroke-width="0.35"/>
<line x1="342.5" y1="15.38" x2="341.0" y2="15.38" stroke-width="0.35"/>
<line x1="39.5" y1="13.26" x2="41.0" y2="13.26" stroke-width="0.35"/>
<line x1="342.5" y1="13.26" x2="341.0" y2="13.26" stroke-width="0.35"/>
<line x1="39.5" y1="11.54" x2="41.0" y2="11.54" stroke-width="0.35"/>
<line x1="342.5" y1="11.54" x2="341.0" y2="11.54" stroke-width="0.35"/>
<line x1="39.5" y1="10.08" x2="41.0" y2="10.08" stroke-width="0.35"/>
<line x1="342.5" y1="10.08" x2="341.0" y2="10.08" stroke-width="0.35"/>
<line x1="39.5" y1="8.81" x2="41.0" y2="8.81" stroke-width="0.35"/>
<line x1="342.5" y1="8.81" x2="341.0" y2="8.81" stroke-width="0.35"/>
<line x1="39.5" y1="7.70" x2="41.0" y2="7.70" stroke-width="0.35"/>
<line x1="342.5" y1="7.70" x2="341.0" y2="7.70" stroke-width="0.35"/>
<line x1="39.5" y1="6.70" x2="42.5" y2="6.70"/>
<line x1="342.5" y1="6.70" x2="339.5" y2="6.70"/>
</g>
<rect x="39.5" y="4.0" width="303.0" height="106.5" fill="none" stroke="#444" stroke-width="1.3"/>

<clipPath id="c2"><rect x="39.5" y="132.0" width="303.0" height="106.5"/></clipPath>
<g clip-path="url(#c2)">
<path d="M121.74,181.86 L122.48,182.03 L123.21,182.19 L123.95,182.35 L124.69,182.52 L125.42,182.68 L126.16,182.84 L126.89,183.01 L127.63,183.17 L128.37,183.33 L129.10,183.50 L129.84,183.66 L130.57,183.82 L131.31,183.99 L132.04,184.15 L132.78,184.31 L133.52,184.48 L134.25,184.64 L134.99,184.80 L135.72,184.97 L136.46,185.13 L137.20,185.29 L137.93,185.46 L138.67,185.62 L139.40,185.78 L140.14,185.95 L140.88,186.11 L141.61,186.27 L142.35,186.44 L143.08,186.60 L143.82,186.76 L144.55,186.93 L145.29,187.09 L146.03,187.25 L146.76,187.42 L147.50,187.58 L148.23,187.74 L148.97,187.91 L149.71,188.07 L150.44,188.23 L151.18,188.40 L151.91,188.56 L152.65,188.72 L153.38,188.89 L154.12,189.05 L154.86,189.21 L155.59,189.38 L156.33,189.54 L157.06,189.71 L157.80,189.87 L158.54,190.03 L159.27,190.20 L160.01,190.36 L160.74,190.53 L161.48,190.69 L162.22,190.86 L162.95,191.02 L163.69,191.19 L164.42,191.35 L165.16,191.52 L165.89,191.69 L166.63,191.85 L167.37,192.02 L168.10,192.19 L168.84,192.35 L169.57,192.52 L170.31,192.69 L171.05,192.86 L171.78,193.02 L172.52,193.19 L173.25,193.36 L173.99,193.53 L174.72,193.70 L175.46,193.87 L176.20,194.04 L176.93,194.21 L177.67,194.38 L178.40,194.55 L179.14,194.73 L179.88,194.90 L180.61,195.07 L181.35,195.24 L182.08,195.42 L182.82,195.59 L183.55,195.77 L184.29,195.94 L185.03,196.12 L185.76,196.29 L186.50,196.47 L187.23,196.64 L187.97,196.82 L188.71,197.00 L189.44,197.18 L190.18,197.35 L190.91,197.53 L191.65,197.71 L192.39,197.89 L193.12,198.07 L193.86,198.25 L194.59,198.43 L195.33,198.61 L196.06,198.80 L196.80,198.98 L197.54,199.16 L198.27,199.34 L199.01,199.53 L199.74,199.71 L200.48,199.89 L201.22,200.08 L201.95,200.26 L202.69,200.45 L203.42,200.64 L204.16,200.82 L204.89,201.01 L205.63,201.20 L206.37,201.38 L207.10,201.57 L207.84,201.76 L208.57,201.95 L209.31,202.14 L210.05,202.33 L210.78,202.52 L211.52,202.71 L212.25,202.90 L212.99,203.09 L213.72,203.28 L214.46,203.47 L215.20,203.67 L215.93,203.86 L216.67,204.05 L217.40,204.24 L218.14,204.44 L218.88,204.63 L219.61,204.82 L220.35,205.02 L221.08,205.21 L221.82,205.41 L222.56,205.60 L223.29,205.80 L224.03,205.99 L224.76,206.19 L225.50,206.39 L226.23,206.58 L226.97,206.78 L227.71,206.98 L228.44,207.18 L229.18,207.37 L229.91,207.57 L230.65,207.77 L231.39,207.97 L232.12,208.17 L232.86,208.37 L233.59,208.56 L234.33,208.76 L235.06,208.96 L235.80,209.16 L236.54,209.36 L237.27,209.56 L238.01,209.76 L238.74,209.96 L239.48,210.16 L240.22,210.37 L240.95,210.57 L241.69,210.77 L242.42,210.97 L243.16,211.17 L243.90,211.37 L244.63,211.57 L245.37,211.78 L246.10,211.98 L246.84,212.18 L247.57,212.38 L248.31,212.59 L249.05,212.79 L249.78,212.99 L250.52,213.20 L251.25,213.40 L251.99,213.60 L252.73,213.81 L253.46,214.01 L254.20,214.21 L254.93,214.42 L255.67,214.62 L256.40,214.83 L257.14,215.03 L257.88,215.23 L258.61,215.44 L259.35,215.64 L260.08,215.85 L260.82,216.05 L261.56,216.26 L262.29,216.46 L263.03,216.67 L263.76,216.87 L264.50,217.08 L265.24,217.28 L265.97,217.49 L266.71,217.69 L267.44,217.90 L268.18,218.10 L268.91,218.31 L269.65,218.51 L270.39,218.72 L271.12,218.92 L271.86,219.13 L272.59,219.34 L273.33,219.54 L274.07,219.75 L274.80,219.95 L275.54,220.16 L276.27,220.36 L277.01,220.57 L277.74,220.78 L278.48,220.98 L279.22,221.19 L279.95,221.39 L280.69,221.60 L281.42,221.81 L282.16,222.01 L282.90,222.22 L283.63,222.43 L284.37,222.63 L285.10,222.84 L285.84,223.04 L286.57,223.25 L287.31,223.46 L288.05,223.66 L288.78,223.87 L289.52,224.07 L290.25,224.28 L290.99,224.49 L291.73,224.69 L292.46,224.90 L293.20,225.11 L293.93,225.31 L294.67,225.52 L295.41,225.72 L296.14,225.93 L296.88,226.14 L297.61,226.34 L298.35,226.55 L299.08,226.76 L299.82,226.96 L300.56,227.17 L301.29,227.37 L302.03,227.58 L302.76,227.79 L303.50,227.99 L304.24,228.20 L304.97,228.40 L305.71,228.61 L306.44,228.82 L307.18,229.02 L307.91,229.23 L308.65,229.43 L309.39,229.64 L310.12,229.85 L310.86,230.05 L311.59,230.26 L312.33,230.46 L313.07,230.67 L313.80,230.88 L314.54,231.08 L315.27,231.29 L316.01,231.49 L316.75,231.70 L317.48,231.90 L318.22,232.11 L318.95,232.32 L319.69,232.52 L320.42,232.73 L321.16,232.93 L321.90,233.14 L322.63,233.34 L323.37,233.55 L324.10,233.75 L324.84,233.96 L325.58,234.16 L326.31,234.37 L327.05,234.57 L327.78,234.78 L328.52,234.98 L329.25,235.19 L329.99,235.39 L330.73,235.60 L331.46,235.80 L332.20,236.01 L332.93,236.21 L333.67,236.42 L334.41,236.62 L335.14,236.83 L335.88,237.03 L336.61,237.24 L337.35,237.44 L338.08,237.64 L338.82,237.85 L339.56,238.05 L340.29,238.26 L341.03,238.46 L341.76,238.67 L342.50,238.87" fill="none" stroke="#000" stroke-width="1"/>
<g fill="#000">
<circle cx="86.10" cy="139.04" r="2.40"/>
<circle cx="86.73" cy="139.87" r="2.40"/>
<circle cx="87.37" cy="140.69" r="2.40"/>
<circle cx="88.00" cy="141.52" r="2.40"/>
<circle cx="88.67" cy="142.39" r="2.40"/>
<circle cx="89.33" cy="143.25" r="2.40"/>
<circle cx="90.00" cy="144.12" r="2.40"/>
<circle cx="90.67" cy="144.87" r="2.40"/>
<circle cx="91.33" cy="145.62" r="2.40"/>
<circle cx="92.00" cy="146.37" r="2.40"/>
<circle cx="92.67" cy="147.05" r="2.40"/>
<circle cx="93.33" cy="147.73" r="2.40"/>
<circle cx="94.00" cy="148.40" r="2.40"/>
<circle cx="95.00" cy="149.14" r="2.40"/>
<circle cx="96.00" cy="149.87" r="2.40"/>
<circle cx="96.75" cy="150.24" r="2.40"/>
<circle cx="97.50" cy="150.60" r="2.40"/>
<circle cx="98.25" cy="150.97" r="2.40"/>
<circle cx="99.00" cy="151.34" r="2.40"/>
<circle cx="100.00" cy="151.71" r="2.40"/>
<circle cx="101.00" cy="152.09" r="2.40"/>
<circle cx="102.00" cy="152.47" r="2.40"/>
<circle cx="103.00" cy="152.80" r="2.40"/>
<circle cx="104.00" cy="153.14" r="2.40"/>
<circle cx="105.00" cy="153.48" r="2.40"/>
<circle cx="106.00" cy="153.86" r="2.40"/>
<circle cx="107.00" cy="154.23" r="2.40"/>
<circle cx="108.00" cy="154.61" r="2.40"/>
<circle cx="109.00" cy="154.95" r="2.40"/>
<circle cx="110.00" cy="155.29" r="2.40"/>
<circle cx="111.00" cy="155.63" r="2.40"/>
<circle cx="112.00" cy="155.96" r="2.40"/>
<circle cx="113.00" cy="156.30" r="2.40"/>
<circle cx="114.00" cy="156.64" r="2.40"/>
<circle cx="115.00" cy="157.04" r="2.40"/>
<circle cx="116.00" cy="157.43" r="2.40"/>
<circle cx="117.00" cy="157.88" r="2.40"/>
<circle cx="118.00" cy="158.33" r="2.40"/>
<circle cx="119.00" cy="158.84" r="2.40"/>
<circle cx="120.00" cy="159.35" r="2.40"/>
<circle cx="120.75" cy="159.86" r="2.40"/>
<circle cx="121.50" cy="160.37" r="2.40"/>
<circle cx="122.20" cy="160.87" r="2.40"/>
<circle cx="122.90" cy="161.38" r="2.40"/>
<circle cx="125.40" cy="167.14" r="2.40"/>
<circle cx="126.60" cy="171.88" r="2.40"/>
<circle cx="127.40" cy="174.81" r="2.40"/>
<circle cx="129.40" cy="177.40" r="2.40"/>
<circle cx="130.20" cy="178.08" r="2.40"/>
<circle cx="131.00" cy="178.76" r="2.40"/>
<circle cx="132.00" cy="179.32" r="2.40"/>
<circle cx="133.00" cy="179.89" r="2.40"/>
<circle cx="134.00" cy="180.34" r="2.40"/>
<circle cx="135.00" cy="180.79" r="2.40"/>
<circle cx="136.00" cy="181.17" r="2.40"/>
<circle cx="137.00" cy="181.54" r="2.40"/>
<circle cx="138.00" cy="181.92" r="2.40"/>
<circle cx="139.00" cy="182.43" r="2.40"/>
<circle cx="140.00" cy="182.93" r="2.40"/>
<circle cx="141.00" cy="183.35" r="2.40"/>
<circle cx="142.00" cy="183.76" r="2.40"/>
<circle cx="143.00" cy="184.18" r="2.40"/>
<circle cx="144.00" cy="184.59" r="2.40"/>
<circle cx="145.00" cy="185.00" r="2.40"/>
<circle cx="146.00" cy="185.42" r="2.40"/>
<circle cx="147.00" cy="185.76" r="2.40"/>
<circle cx="148.00" cy="186.09" r="2.40"/>
<circle cx="149.00" cy="186.43" r="2.40"/>
<circle cx="150.00" cy="186.77" r="2.40"/>
<circle cx="151.00" cy="187.11" r="2.40"/>
<circle cx="152.00" cy="187.45" r="2.40"/>
<circle cx="153.00" cy="187.82" r="2.40"/>
<circle cx="154.00" cy="188.20" r="2.40"/>
<circle cx="155.00" cy="188.58" r="2.40"/>
<circle cx="156.00" cy="188.91" r="2.40"/>
<circle cx="157.00" cy="189.25" r="2.40"/>
<circle cx="158.00" cy="189.59" r="2.40"/>
<circle cx="159.00" cy="189.93" r="2.40"/>
<circle cx="160.00" cy="190.27" r="2.40"/>
<circle cx="161.00" cy="190.61" r="2.40"/>
<circle cx="162.00" cy="190.91" r="2.40"/>
<circle cx="163.00" cy="191.21" r="2.40"/>
<circle cx="164.00" cy="191.51" r="2.40"/>
<circle cx="165.00" cy="191.79" r="2.40"/>
<circle cx="166.00" cy="192.07" r="2.40"/>
<circle cx="172.00" cy="192.86" r="2.40"/>
<circle cx="174.60" cy="192.53" r="2.40"/>
<circle cx="180.90" cy="194.44" r="2.40"/>
<circle cx="235.20" cy="209.00" r="2.40"/>
<circle cx="237.85" cy="207.76" r="2.40"/>
<circle cx="254.30" cy="213.18" r="2.40"/>
<circle cx="256.00" cy="213.85" r="2.40"/>
<circle cx="263.70" cy="216.11" r="2.40"/>
<circle cx="266.90" cy="216.79" r="2.40"/>
<circle cx="270.10" cy="220.40" r="2.40"/>
<circle cx="272.70" cy="218.48" r="2.40"/>
<circle cx="277.60" cy="219.50" r="2.40"/>
<circle cx="281.90" cy="221.08" r="2.40"/>
</g>
<g fill="#0000ff">
<circle cx="86.10" cy="139.04" r="1.75"/>
<circle cx="86.73" cy="139.87" r="1.75"/>
<circle cx="87.37" cy="140.69" r="1.75"/>
<circle cx="88.00" cy="141.52" r="1.75"/>
<circle cx="88.67" cy="142.39" r="1.75"/>
<circle cx="89.33" cy="143.25" r="1.75"/>
<circle cx="90.00" cy="144.12" r="1.75"/>
<circle cx="90.67" cy="144.87" r="1.75"/>
<circle cx="91.33" cy="145.62" r="1.75"/>
<circle cx="92.00" cy="146.37" r="1.75"/>
<circle cx="92.67" cy="147.05" r="1.75"/>
<circle cx="93.33" cy="147.73" r="1.75"/>
<circle cx="94.00" cy="148.40" r="1.75"/>
<circle cx="95.00" cy="149.14" r="1.75"/>
<circle cx="96.00" cy="149.87" r="1.75"/>
<circle cx="96.75" cy="150.24" r="1.75"/>
<circle cx="97.50" cy="150.60" r="1.75"/>
<circle cx="98.25" cy="150.97" r="1.75"/>
<circle cx="99.00" cy="151.34" r="1.75"/>
<circle cx="100.00" cy="151.71" r="1.75"/>
<circle cx="101.00" cy="152.09" r="1.75"/>
<circle cx="102.00" cy="152.47" r="1.75"/>
<circle cx="103.00" cy="152.80" r="1.75"/>
<circle cx="104.00" cy="153.14" r="1.75"/>
<circle cx="105.00" cy="153.48" r="1.75"/>
<circle cx="106.00" cy="153.86" r="1.75"/>
<circle cx="107.00" cy="154.23" r="1.75"/>
<circle cx="108.00" cy="154.61" r="1.75"/>
<circle cx="109.00" cy="154.95" r="1.75"/>
<circle cx="110.00" cy="155.29" r="1.75"/>
<circle cx="111.00" cy="155.63" r="1.75"/>
<circle cx="112.00" cy="155.96" r="1.75"/>
<circle cx="113.00" cy="156.30" r="1.75"/>
<circle cx="114.00" cy="156.64" r="1.75"/>
<circle cx="115.00" cy="157.04" r="1.75"/>
<circle cx="116.00" cy="157.43" r="1.75"/>
<circle cx="117.00" cy="157.88" r="1.75"/>
<circle cx="118.00" cy="158.33" r="1.75"/>
<circle cx="119.00" cy="158.84" r="1.75"/>
<circle cx="120.00" cy="159.35" r="1.75"/>
<circle cx="120.75" cy="159.86" r="1.75"/>
<circle cx="121.50" cy="160.37" r="1.75"/>
<circle cx="122.20" cy="160.87" r="1.75"/>
<circle cx="122.90" cy="161.38" r="1.75"/>
<circle cx="125.40" cy="167.14" r="1.75"/>
<circle cx="126.60" cy="171.88" r="1.75"/>
<circle cx="127.40" cy="174.81" r="1.75"/>
<circle cx="129.40" cy="177.40" r="1.75"/>
<circle cx="130.20" cy="178.08" r="1.75"/>
<circle cx="131.00" cy="178.76" r="1.75"/>
<circle cx="132.00" cy="179.32" r="1.75"/>
<circle cx="133.00" cy="179.89" r="1.75"/>
<circle cx="134.00" cy="180.34" r="1.75"/>
<circle cx="135.00" cy="180.79" r="1.75"/>
<circle cx="136.00" cy="181.17" r="1.75"/>
<circle cx="137.00" cy="181.54" r="1.75"/>
<circle cx="138.00" cy="181.92" r="1.75"/>
<circle cx="139.00" cy="182.43" r="1.75"/>
<circle cx="140.00" cy="182.93" r="1.75"/>
<circle cx="141.00" cy="183.35" r="1.75"/>
<circle cx="142.00" cy="183.76" r="1.75"/>
<circle cx="143.00" cy="184.18" r="1.75"/>
<circle cx="144.00" cy="184.59" r="1.75"/>
<circle cx="145.00" cy="185.00" r="1.75"/>
<circle cx="146.00" cy="185.42" r="1.75"/>
<circle cx="147.00" cy="185.76" r="1.75"/>
<circle cx="148.00" cy="186.09" r="1.75"/>
<circle cx="149.00" cy="186.43" r="1.75"/>
<circle cx="150.00" cy="186.77" r="1.75"/>
<circle cx="151.00" cy="187.11" r="1.75"/>
<circle cx="152.00" cy="187.45" r="1.75"/>
<circle cx="153.00" cy="187.82" r="1.75"/>
<circle cx="154.00" cy="188.20" r="1.75"/>
<circle cx="155.00" cy="188.58" r="1.75"/>
<circle cx="156.00" cy="188.91" r="1.75"/>
<circle cx="157.00" cy="189.25" r="1.75"/>
<circle cx="158.00" cy="189.59" r="1.75"/>
<circle cx="159.00" cy="189.93" r="1.75"/>
<circle cx="160.00" cy="190.27" r="1.75"/>
<circle cx="161.00" cy="190.61" r="1.75"/>
<circle cx="162.00" cy="190.91" r="1.75"/>
<circle cx="163.00" cy="191.21" r="1.75"/>
<circle cx="164.00" cy="191.51" r="1.75"/>
<circle cx="165.00" cy="191.79" r="1.75"/>
<circle cx="166.00" cy="192.07" r="1.75"/>
<circle cx="172.00" cy="192.86" r="1.75"/>
<circle cx="174.60" cy="192.53" r="1.75"/>
<circle cx="180.90" cy="194.44" r="1.75"/>
<circle cx="235.20" cy="209.00" r="1.75"/>
<circle cx="237.85" cy="207.76" r="1.75"/>
<circle cx="254.30" cy="213.18" r="1.75"/>
<circle cx="256.00" cy="213.85" r="1.75"/>
<circle cx="263.70" cy="216.11" r="1.75"/>
<circle cx="266.90" cy="216.79" r="1.75"/>
<circle cx="270.10" cy="220.40" r="1.75"/>
<circle cx="272.70" cy="218.48" r="1.75"/>
<circle cx="277.60" cy="219.50" r="1.75"/>
<circle cx="281.90" cy="221.08" r="1.75"/>
</g>
<g fill="#0000ff" stroke="#000" stroke-width="0.5">
<circle cx="131.84" cy="179.38" r="1.90"/>
<circle cx="132.92" cy="180.03" r="1.90"/>
<circle cx="135.08" cy="180.20" r="1.90"/>
<circle cx="136.21" cy="181.81" r="1.90"/>
<circle cx="137.86" cy="181.56" r="1.90"/>
<circle cx="140.30" cy="182.89" r="1.90"/>
<circle cx="141.70" cy="183.52" r="1.90"/>
<circle cx="143.08" cy="183.70" r="1.90"/>
<circle cx="144.58" cy="185.29" r="1.90"/>
<circle cx="146.01" cy="185.74" r="1.90"/>
<circle cx="147.60" cy="185.33" r="1.90"/>
<circle cx="149.15" cy="186.56" r="1.90"/>
<circle cx="150.38" cy="186.30" r="1.90"/>
<circle cx="152.22" cy="187.41" r="1.90"/>
<circle cx="153.63" cy="188.52" r="1.90"/>
<circle cx="155.13" cy="189.15" r="1.90"/>
<circle cx="156.44" cy="189.49" r="1.90"/>
<circle cx="157.97" cy="190.18" r="1.90"/>
<circle cx="159.73" cy="189.55" r="1.90"/>
<circle cx="160.78" cy="190.22" r="1.90"/>
<circle cx="162.78" cy="190.97" r="1.90"/>
<circle cx="164.08" cy="191.24" r="1.90"/>
</g>
<path d="M71.96,126.76 L72.42,128.00 L72.87,129.24 L73.32,130.48 L73.77,131.72 L74.22,132.96 L74.67,134.19 L75.12,135.41 L75.57,136.64 L76.02,137.85 L76.47,139.07 L76.92,140.27 L77.38,141.48 L77.83,142.67 L78.28,143.86 L78.73,145.04 L79.18,146.21 L79.63,147.36 L80.08,148.51 L80.53,149.65 L80.98,150.77 L81.43,151.88 L81.88,152.98 L82.33,154.06 L82.79,155.12 L83.24,156.16 L83.69,157.18 L84.14,158.18 L84.59,159.15 L85.04,160.10 L85.49,161.03 L85.94,161.93 L86.39,162.80 L86.84,163.64 L87.29,164.46 L87.75,165.24 L88.20,165.99 L88.65,166.71 L89.10,167.40 L89.55,168.06 L90.00,168.68 L90.45,169.28 L90.90,169.84 L91.35,170.37 L91.80,170.88 L92.25,171.35 L92.71,171.80 L93.16,172.22 L93.61,172.62 L94.06,172.99 L94.51,173.35 L94.96,173.68 L95.41,173.99 L95.86,174.28 L96.31,174.56 L96.76,174.82 L97.21,175.07 L97.67,175.30 L98.12,175.52 L98.57,175.73 L99.02,175.93 L99.47,176.12 L99.92,176.30 L100.37,176.47 L100.82,176.64 L101.27,176.80 L101.72,176.95 L102.17,177.10 L102.62,177.24 L103.08,177.38 L103.53,177.52 L103.98,177.65 L104.43,177.78 L104.88,177.90 L105.33,178.02 L105.78,178.15 L106.23,178.26 L106.68,178.38 L107.13,178.50 L107.58,178.61 L108.04,178.72 L108.49,178.83 L108.94,178.94 L109.39,179.05 L109.84,179.16 L110.29,179.27 L110.74,179.37 L111.19,179.48 L111.64,179.58 L112.09,179.69 L112.54,179.79 L113.00,179.89 L113.45,180.00 L113.90,180.10 L114.35,180.20 L114.80,180.31 L115.25,180.41 L115.70,180.51 L116.15,180.61 L116.60,180.71 L117.05,180.81 L117.50,180.92 L117.96,181.02 L118.41,181.12 L118.86,181.22 L119.31,181.32 L119.76,181.42 L120.21,181.52 L120.66,181.62 L121.11,181.72 L121.56,181.82 L122.01,181.92 L122.46,182.02 L122.92,182.12 L123.37,182.22 L123.82,182.32 L124.27,182.42 L124.72,182.52 L125.17,182.62 L125.62,182.72 L126.07,182.82 L126.52,182.93 L126.97,183.03 L127.42,183.13 L127.88,183.23 L128.33,183.33 L128.78,183.43 L129.23,183.53 L129.68,183.63 L130.13,183.73 L130.58,183.83 L131.03,183.93 L131.48,184.03 L131.93,184.13 L132.38,184.23 L132.83,184.33 L133.29,184.43 L133.74,184.53 L134.19,184.63 L134.64,184.73 L135.09,184.83 L135.54,184.93 L135.99,185.03 L136.44,185.13 L136.89,185.23 L137.34,185.33 L137.79,185.43 L138.25,185.53 L138.70,185.63 L139.15,185.73 L139.60,185.83 L140.05,185.93 L140.50,186.03 L140.95,186.13 L141.40,186.23 L141.85,186.33 L142.30,186.43 L142.75,186.53 L143.21,186.63 L143.66,186.73 L144.11,186.83 L144.56,186.93 L145.01,187.03 L145.46,187.13 L145.91,187.23 L146.36,187.33 L146.81,187.43 L147.26,187.53 L147.71,187.63 L148.17,187.73 L148.62,187.83 L149.07,187.93 L149.52,188.03 L149.97,188.13 L150.42,188.23 L150.87,188.33 L151.32,188.43 L151.77,188.53 L152.22,188.63 L152.67,188.73 L153.12,188.83 L153.58,188.93 L154.03,189.03 L154.48,189.13 L154.93,189.23 L155.38,189.33 L155.83,189.43 L156.28,189.53 L156.73,189.63 L157.18,189.73 L157.63,189.83 L158.08,189.93 L158.54,190.03 L158.99,190.13 L159.44,190.23 L159.89,190.33 L160.34,190.43 L160.79,190.53 L161.24,190.63 L161.69,190.73 L162.14,190.83 L162.59,190.93 L163.04,191.03 L163.50,191.13 L163.95,191.23 L164.40,191.33 L164.85,191.43 L165.30,191.53 L165.75,191.63 L166.20,191.73 L166.65,191.83 L167.10,191.93 L167.55,192.03 L168.00,192.13 L168.46,192.23 L168.91,192.33 L169.36,192.43 L169.81,192.53 L170.26,192.63 L170.71,192.73 L171.16,192.83 L171.61,192.93 L172.06,193.03 L172.51,193.13 L172.96,193.23 L173.42,193.33 L173.87,193.43 L174.32,193.53 L174.77,193.63 L175.22,193.73 L175.67,193.83 L176.12,193.93 L176.57,194.03 L177.02,194.13 L177.47,194.23 L177.92,194.33 L178.38,194.43 L178.83,194.53 L179.28,194.63 L179.73,194.73 L180.18,194.83 L180.63,194.92 L181.08,195.02 L181.53,195.12 L181.98,195.22 L182.43,195.32 L182.88,195.42 L183.33,195.52 L183.79,195.62 L184.24,195.72 L184.69,195.82 L185.14,195.92 L185.59,196.02 L186.04,196.12 L186.49,196.22 L186.94,196.32 L187.39,196.42 L187.84,196.52 L188.29,196.62 L188.75,196.72 L189.20,196.82 L189.65,196.92 L190.10,197.02 L190.55,197.12 L191.00,197.22 L191.45,197.32 L191.90,197.42 L192.35,197.52 L192.80,197.62 L193.25,197.72 L193.71,197.82 L194.16,197.92 L194.61,198.02 L195.06,198.12 L195.51,198.22 L195.96,198.32 L196.41,198.42 L196.86,198.52 L197.31,198.62 L197.76,198.72 L198.21,198.82 L198.67,198.92 L199.12,199.02 L199.57,199.12 L200.02,199.22 L200.47,199.32 L200.92,199.42 L201.37,199.52 L201.82,199.62 L202.27,199.72 L202.72,199.82 L203.17,199.92 L203.62,200.02 L204.08,200.12 L204.53,200.22 L204.98,200.32 L205.43,200.42 L205.88,200.52 L206.33,200.62 L206.78,200.72 L207.23,200.82 L207.68,200.92 L208.13,201.02 L208.58,201.12 L209.04,201.22 L209.49,201.32 L209.94,201.42 L210.39,201.52 L210.84,201.62 L211.29,201.72 L211.74,201.82 L212.19,201.92 L212.64,202.02 L213.09,202.12 L213.54,202.22 L214.00,202.32 L214.45,202.42 L214.90,202.52 L215.35,202.62 L215.80,202.72 L216.25,202.82 L216.70,202.92 L217.15,203.02 L217.60,203.12 L218.05,203.22 L218.50,203.32 L218.96,203.42 L219.41,203.52 L219.86,203.62 L220.31,203.72 L220.76,203.82 L221.21,203.92 L221.66,204.02 L222.11,204.12 L222.56,204.22 L223.01,204.32 L223.46,204.42 L223.92,204.52 L224.37,204.62 L224.82,204.72 L225.27,204.82 L225.72,204.92 L226.17,205.02 L226.62,205.12 L227.07,205.22 L227.52,205.32 L227.97,205.42 L228.42,205.52 L228.88,205.62 L229.33,205.72 L229.78,205.82 L230.23,205.92 L230.68,206.02 L231.13,206.12 L231.58,206.22 L232.03,206.32 L232.48,206.42 L232.93,206.52 L233.38,206.62 L233.83,206.72 L234.29,206.82 L234.74,206.92 L235.19,207.02 L235.64,207.12 L236.09,207.22 L236.54,207.32 L236.99,207.42 L237.44,207.52 L237.89,207.62 L238.34,207.72 L238.79,207.82 L239.25,207.92 L239.70,208.02 L240.15,208.12 L240.60,208.22 L241.05,208.32 L241.50,208.42 L241.95,208.52 L242.40,208.62 L242.85,208.72 L243.30,208.82 L243.75,208.92 L244.21,209.02 L244.66,209.12 L245.11,209.22 L245.56,209.32 L246.01,209.42 L246.46,209.52 L246.91,209.62 L247.36,209.72 L247.81,209.82 L248.26,209.92 L248.71,210.02 L249.17,210.12 L249.62,210.22 L250.07,210.32 L250.52,210.42 L250.97,210.52 L251.42,210.62 L251.87,210.72 L252.32,210.82 L252.77,210.92 L253.22,211.02 L253.67,211.12 L254.12,211.22 L254.58,211.32 L255.03,211.42 L255.48,211.52 L255.93,211.62 L256.38,211.72 L256.83,211.82 L257.28,211.92 L257.73,212.02 L258.18,212.12 L258.63,212.22 L259.08,212.32 L259.54,212.42 L259.99,212.52 L260.44,212.62 L260.89,212.72 L261.34,212.82 L261.79,212.92 L262.24,213.02 L262.69,213.12 L263.14,213.22 L263.59,213.32 L264.04,213.42 L264.50,213.52 L264.95,213.62 L265.40,213.72 L265.85,213.82 L266.30,213.92 L266.75,214.02 L267.20,214.12 L267.65,214.22 L268.10,214.32 L268.55,214.42 L269.00,214.52 L269.46,214.62 L269.91,214.72 L270.36,214.82 L270.81,214.92 L271.26,215.02 L271.71,215.12 L272.16,215.22 L272.61,215.32 L273.06,215.42 L273.51,215.52 L273.96,215.62 L274.42,215.72 L274.87,215.82 L275.32,215.92 L275.77,216.02 L276.22,216.12 L276.67,216.22 L277.12,216.32 L277.57,216.42 L278.02,216.52 L278.47,216.62 L278.92,216.72 L279.38,216.82 L279.83,216.92 L280.28,217.02 L280.73,217.12 L281.18,217.22 L281.63,217.32 L282.08,217.42 L282.53,217.52 L282.98,217.62 L283.43,217.72 L283.88,217.82 L284.33,217.92 L284.79,218.02 L285.24,218.12 L285.69,218.22 L286.14,218.32 L286.59,218.42 L287.04,218.52 L287.49,218.62 L287.94,218.72 L288.39,218.82 L288.84,218.92 L289.29,219.02 L289.75,219.12 L290.20,219.22 L290.65,219.32 L291.10,219.42 L291.55,219.52 L292.00,219.62 L292.45,219.72 L292.90,219.82 L293.35,219.92 L293.80,220.02 L294.25,220.12 L294.71,220.22 L295.16,220.32 L295.61,220.42 L296.06,220.52 L296.51,220.62 L296.96,220.72 L297.41,220.82 L297.86,220.92 L298.31,221.02 L298.76,221.12 L299.21,221.22 L299.67,221.32 L300.12,221.42 L300.57,221.52 L301.02,221.62 L301.47,221.72 L301.92,221.82 L302.37,221.92 L302.82,222.02 L303.27,222.12 L303.72,222.22 L304.17,222.32 L304.62,222.42 L305.08,222.52 L305.53,222.62 L305.98,222.72 L306.43,222.82 L306.88,222.92 L307.33,223.02 L307.78,223.12 L308.23,223.22 L308.68,223.32 L309.13,223.42 L309.58,223.52 L310.04,223.62 L310.49,223.72 L310.94,223.82 L311.39,223.92 L311.84,224.02 L312.29,224.12 L312.74,224.22 L313.19,224.32 L313.64,224.42 L314.09,224.52 L314.54,224.62 L315.00,224.72 L315.45,224.82 L315.90,224.92 L316.35,225.02 L316.80,225.12 L317.25,225.22 L317.70,225.32 L318.15,225.42 L318.60,225.52 L319.05,225.62 L319.50,225.72 L319.96,225.82 L320.41,225.92 L320.86,226.02 L321.31,226.12 L321.76,226.22 L322.21,226.32 L322.66,226.42 L323.11,226.52 L323.56,226.62 L324.01,226.72 L324.46,226.82 L324.92,226.92 L325.37,227.02 L325.82,227.12 L326.27,227.22 L326.72,227.32 L327.17,227.42 L327.62,227.52 L328.07,227.62 L328.52,227.72 L328.97,227.82 L329.42,227.92 L329.88,228.02 L330.33,228.12 L330.78,228.22 L331.23,228.32 L331.68,228.42 L332.13,228.52 L332.58,228.62 L333.03,228.72 L333.48,228.82 L333.93,228.92 L334.38,229.02 L334.83,229.12 L335.29,229.22 L335.74,229.32 L336.19,229.42 L336.64,229.52 L337.09,229.62 L337.54,229.72 L337.99,229.82 L338.44,229.92 L338.89,230.02 L339.34,230.12 L339.79,230.22 L340.25,230.32 L340.70,230.42 L341.15,230.52 L341.60,230.62 L342.05,230.72 L342.50,230.82" fill="none" stroke="#ff0000" stroke-width="1"/>
</g>
<g stroke="#000" stroke-width="0.55">
<line x1="39.50" y1="238.5" x2="39.50" y2="235.5"/>
<line x1="39.50" y1="132.0" x2="39.50" y2="135.0"/>
<line x1="82.79" y1="238.5" x2="82.79" y2="235.5"/>
<line x1="82.79" y1="132.0" x2="82.79" y2="135.0"/>
<line x1="126.07" y1="238.5" x2="126.07" y2="235.5"/>
<line x1="126.07" y1="132.0" x2="126.07" y2="135.0"/>
<line x1="169.36" y1="238.5" x2="169.36" y2="235.5"/>
<line x1="169.36" y1="132.0" x2="169.36" y2="135.0"/>
<line x1="212.64" y1="238.5" x2="212.64" y2="235.5"/>
<line x1="212.64" y1="132.0" x2="212.64" y2="135.0"/>
<line x1="255.93" y1="238.5" x2="255.93" y2="235.5"/>
<line x1="255.93" y1="132.0" x2="255.93" y2="135.0"/>
<line x1="299.21" y1="238.5" x2="299.21" y2="235.5"/>
<line x1="299.21" y1="132.0" x2="299.21" y2="135.0"/>
<line x1="342.50" y1="238.5" x2="342.50" y2="235.5"/>
<line x1="342.50" y1="132.0" x2="342.50" y2="135.0"/>
<line x1="39.5" y1="236.61" x2="41.0" y2="236.61" stroke-width="0.35"/>
<line x1="342.5" y1="236.61" x2="341.0" y2="236.61" stroke-width="0.35"/>
<line x1="39.5" y1="234.66" x2="41.0" y2="234.66" stroke-width="0.35"/>
<line x1="342.5" y1="234.66" x2="341.0" y2="234.66" stroke-width="0.35"/>
<line x1="39.5" y1="233.01" x2="41.0" y2="233.01" stroke-width="0.35"/>
<line x1="342.5" y1="233.01" x2="341.0" y2="233.01" stroke-width="0.35"/>
<line x1="39.5" y1="231.58" x2="41.0" y2="231.58" stroke-width="0.35"/>
<line x1="342.5" y1="231.58" x2="341.0" y2="231.58" stroke-width="0.35"/>
<line x1="39.5" y1="230.33" x2="41.0" y2="230.33" stroke-width="0.35"/>
<line x1="342.5" y1="230.33" x2="341.0" y2="230.33" stroke-width="0.35"/>
<line x1="39.5" y1="229.20" x2="42.5" y2="229.20"/>
<line x1="342.5" y1="229.20" x2="339.5" y2="229.20"/>
<line x1="39.5" y1="221.79" x2="41.0" y2="221.79" stroke-width="0.35"/>
<line x1="342.5" y1="221.79" x2="341.0" y2="221.79" stroke-width="0.35"/>
<line x1="39.5" y1="217.46" x2="41.0" y2="217.46" stroke-width="0.35"/>
<line x1="342.5" y1="217.46" x2="341.0" y2="217.46" stroke-width="0.35"/>
<line x1="39.5" y1="214.39" x2="41.0" y2="214.39" stroke-width="0.35"/>
<line x1="342.5" y1="214.39" x2="341.0" y2="214.39" stroke-width="0.35"/>
<line x1="39.5" y1="212.01" x2="41.0" y2="212.01" stroke-width="0.35"/>
<line x1="342.5" y1="212.01" x2="341.0" y2="212.01" stroke-width="0.35"/>
<line x1="39.5" y1="210.06" x2="41.0" y2="210.06" stroke-width="0.35"/>
<line x1="342.5" y1="210.06" x2="341.0" y2="210.06" stroke-width="0.35"/>
<line x1="39.5" y1="208.41" x2="41.0" y2="208.41" stroke-width="0.35"/>
<line x1="342.5" y1="208.41" x2="341.0" y2="208.41" stroke-width="0.35"/>
<line x1="39.5" y1="206.98" x2="41.0" y2="206.98" stroke-width="0.35"/>
<line x1="342.5" y1="206.98" x2="341.0" y2="206.98" stroke-width="0.35"/>
<line x1="39.5" y1="205.73" x2="41.0" y2="205.73" stroke-width="0.35"/>
<line x1="342.5" y1="205.73" x2="341.0" y2="205.73" stroke-width="0.35"/>
<line x1="39.5" y1="204.60" x2="42.5" y2="204.60"/>
<line x1="342.5" y1="204.60" x2="339.5" y2="204.60"/>
<line x1="39.5" y1="197.19" x2="41.0" y2="197.19" stroke-width="0.35"/>
<line x1="342.5" y1="197.19" x2="341.0" y2="197.19" stroke-width="0.35"/>
<line x1="39.5" y1="192.86" x2="41.0" y2="192.86" stroke-width="0.35"/>
<line x1="342.5" y1="192.86" x2="341.0" y2="192.86" stroke-width="0.35"/>
<line x1="39.5" y1="189.79" x2="41.0" y2="189.79" stroke-width="0.35"/>
<line x1="342.5" y1="189.79" x2="341.0" y2="189.79" stroke-width="0.35"/>
<line x1="39.5" y1="187.41" x2="41.0" y2="187.41" stroke-width="0.35"/>
<line x1="342.5" y1="187.41" x2="341.0" y2="187.41" stroke-width="0.35"/>
<line x1="39.5" y1="185.46" x2="41.0" y2="185.46" stroke-width="0.35"/>
<line x1="342.5" y1="185.46" x2="341.0" y2="185.46" stroke-width="0.35"/>
<line x1="39.5" y1="183.81" x2="41.0" y2="183.81" stroke-width="0.35"/>
<line x1="342.5" y1="183.81" x2="341.0" y2="183.81" stroke-width="0.35"/>
<line x1="39.5" y1="182.38" x2="41.0" y2="182.38" stroke-width="0.35"/>
<line x1="342.5" y1="182.38" x2="341.0" y2="182.38" stroke-width="0.35"/>
<line x1="39.5" y1="181.13" x2="41.0" y2="181.13" stroke-width="0.35"/>
<line x1="342.5" y1="181.13" x2="341.0" y2="181.13" stroke-width="0.35"/>
<line x1="39.5" y1="180.00" x2="42.5" y2="180.00"/>
<line x1="342.5" y1="180.00" x2="339.5" y2="180.00"/>
<line x1="39.5" y1="172.59" x2="41.0" y2="172.59" stroke-width="0.35"/>
<line x1="342.5" y1="172.59" x2="341.0" y2="172.59" stroke-width="0.35"/>
<line x1="39.5" y1="168.26" x2="41.0" y2="168.26" stroke-width="0.35"/>
<line x1="342.5" y1="168.26" x2="341.0" y2="168.26" stroke-width="0.35"/>
<line x1="39.5" y1="165.19" x2="41.0" y2="165.19" stroke-width="0.35"/>
<line x1="342.5" y1="165.19" x2="341.0" y2="165.19" stroke-width="0.35"/>
<line x1="39.5" y1="162.81" x2="41.0" y2="162.81" stroke-width="0.35"/>
<line x1="342.5" y1="162.81" x2="341.0" y2="162.81" stroke-width="0.35"/>
<line x1="39.5" y1="160.86" x2="41.0" y2="160.86" stroke-width="0.35"/>
<line x1="342.5" y1="160.86" x2="341.0" y2="160.86" stroke-width="0.35"/>
<line x1="39.5" y1="159.21" x2="41.0" y2="159.21" stroke-width="0.35"/>
<line x1="342.5" y1="159.21" x2="341.0" y2="159.21" stroke-width="0.35"/>
<line x1="39.5" y1="157.78" x2="41.0" y2="157.78" stroke-width="0.35"/>
<line x1="342.5" y1="157.78" x2="341.0" y2="157.78" stroke-width="0.35"/>
<line x1="39.5" y1="156.53" x2="41.0" y2="156.53" stroke-width="0.35"/>
<line x1="342.5" y1="156.53" x2="341.0" y2="156.53" stroke-width="0.35"/>
<line x1="39.5" y1="155.40" x2="42.5" y2="155.40"/>
<line x1="342.5" y1="155.40" x2="339.5" y2="155.40"/>
<line x1="39.5" y1="147.99" x2="41.0" y2="147.99" stroke-width="0.35"/>
<line x1="342.5" y1="147.99" x2="341.0" y2="147.99" stroke-width="0.35"/>
<line x1="39.5" y1="143.66" x2="41.0" y2="143.66" stroke-width="0.35"/>
<line x1="342.5" y1="143.66" x2="341.0" y2="143.66" stroke-width="0.35"/>
<line x1="39.5" y1="140.59" x2="41.0" y2="140.59" stroke-width="0.35"/>
<line x1="342.5" y1="140.59" x2="341.0" y2="140.59" stroke-width="0.35"/>
<line x1="39.5" y1="138.21" x2="41.0" y2="138.21" stroke-width="0.35"/>
<line x1="342.5" y1="138.21" x2="341.0" y2="138.21" stroke-width="0.35"/>
<line x1="39.5" y1="136.26" x2="41.0" y2="136.26" stroke-width="0.35"/>
<line x1="342.5" y1="136.26" x2="341.0" y2="136.26" stroke-width="0.35"/>
<line x1="39.5" y1="134.61" x2="41.0" y2="134.61" stroke-width="0.35"/>
<line x1="342.5" y1="134.61" x2="341.0" y2="134.61" stroke-width="0.35"/>
<line x1="39.5" y1="133.18" x2="41.0" y2="133.18" stroke-width="0.35"/>
<line x1="342.5" y1="133.18" x2="341.0" y2="133.18" stroke-width="0.35"/>
</g>
<rect x="39.5" y="132.0" width="303.0" height="106.5" fill="none" stroke="#444" stroke-width="1.3"/>

<text x="18.2" y="9.40" class="tls">10</text><text x="28.6" y="4.80" class="sup">43</text>
<text x="18.2" y="31.20" class="tls">10</text><text x="28.6" y="26.60" class="sup">42</text>
<text x="18.2" y="53.00" class="tls">10</text><text x="28.6" y="48.40" class="sup">41</text>
<text x="18.2" y="74.80" class="tls">10</text><text x="28.6" y="70.20" class="sup">40</text>
<text x="18.2" y="96.60" class="tls">10</text><text x="28.6" y="92.00" class="sup">39</text>
<text x="18.2" y="158.10" class="tls">10</text><text x="28.6" y="153.50" class="sup">42</text>
<text x="18.2" y="182.70" class="tls">10</text><text x="28.6" y="178.10" class="sup">41</text>
<text x="18.2" y="207.30" class="tls">10</text><text x="28.6" y="202.70" class="sup">40</text>
<text x="18.2" y="231.90" class="tls">10</text><text x="28.6" y="227.30" class="sup">39</text>
<text x="40.00" y="119.5" text-anchor="middle" class="tl" textLength="23.6" lengthAdjust="spacingAndGlyphs">−100</text>
<text x="83.09" y="119.5" text-anchor="middle" class="tl" textLength="5.5" lengthAdjust="spacingAndGlyphs">0</text>
<text x="126.37" y="119.5" text-anchor="middle" class="tl" textLength="16.5" lengthAdjust="spacingAndGlyphs">100</text>
<text x="169.66" y="119.5" text-anchor="middle" class="tl" textLength="16.5" lengthAdjust="spacingAndGlyphs">200</text>
<text x="212.94" y="119.5" text-anchor="middle" class="tl" textLength="16.5" lengthAdjust="spacingAndGlyphs">300</text>
<text x="256.23" y="119.5" text-anchor="middle" class="tl" textLength="16.5" lengthAdjust="spacingAndGlyphs">400</text>
<text x="299.51" y="119.5" text-anchor="middle" class="tl" textLength="16.5" lengthAdjust="spacingAndGlyphs">500</text>
<text x="342.80" y="119.5" text-anchor="middle" class="tl" textLength="16.5" lengthAdjust="spacingAndGlyphs">600</text>
<text x="40.00" y="247.5" text-anchor="middle" class="tl" textLength="23.6" lengthAdjust="spacingAndGlyphs">−100</text>
<text x="83.09" y="247.5" text-anchor="middle" class="tl" textLength="5.5" lengthAdjust="spacingAndGlyphs">0</text>
<text x="126.37" y="247.5" text-anchor="middle" class="tl" textLength="16.5" lengthAdjust="spacingAndGlyphs">100</text>
<text x="169.66" y="247.5" text-anchor="middle" class="tl" textLength="16.5" lengthAdjust="spacingAndGlyphs">200</text>
<text x="212.94" y="247.5" text-anchor="middle" class="tl" textLength="16.5" lengthAdjust="spacingAndGlyphs">300</text>
<text x="256.23" y="247.5" text-anchor="middle" class="tl" textLength="16.5" lengthAdjust="spacingAndGlyphs">400</text>
<text x="299.51" y="247.5" text-anchor="middle" class="tl" textLength="16.5" lengthAdjust="spacingAndGlyphs">500</text>
<text x="342.80" y="247.5" text-anchor="middle" class="tl" textLength="16.5" lengthAdjust="spacingAndGlyphs">600</text>
<text class="ann" x="161.2" y="14.2" font-size="10.5" font-style="italic" style="stroke-width:0" textLength="5.4" lengthAdjust="spacingAndGlyphs">χ</text>
<text class="ann" x="166.7" y="9.5" font-size="6.2">2</text>
<text class="ann" x="172.5" y="17.4" font-size="15" textLength="3.8" lengthAdjust="spacingAndGlyphs">/</text>
<text class="ann" x="177.0" y="14.5" font-size="9.3" font-style="italic" style="stroke-width:0" textLength="15.5" lengthAdjust="spacingAndGlyphs">dof</text>
<text class="ann" x="194.0" y="14.5" font-size="9.3" textLength="7.0" lengthAdjust="spacingAndGlyphs">=</text>
<text class="ann" x="201.6" y="14.5" font-size="9.3" textLength="16.9" lengthAdjust="spacingAndGlyphs">0.48</text>
<text class="ann" x="160.6" y="24.5" font-size="9.3" font-style="italic" style="stroke-width:0" textLength="7.4" lengthAdjust="spacingAndGlyphs">T</text>
<text class="ann" x="167.9" y="26.9" font-size="6.2">0</text>
<text class="ann" x="173.0" y="24.5" font-size="9.3" textLength="6.6" lengthAdjust="spacingAndGlyphs">=</text>
<text class="ann" x="180.6" y="24.5" font-size="9.3" textLength="26.6" lengthAdjust="spacingAndGlyphs">203.01</text>
<text class="ann" x="208.8" y="24.5" font-size="9.3" textLength="6.3" lengthAdjust="spacingAndGlyphs">±</text>
<text class="ann" x="215.8" y="24.5" font-size="9.3" textLength="17.6" lengthAdjust="spacingAndGlyphs">7.03</text>
<text class="ann" x="160.6" y="35.5" font-size="9.3" font-style="italic" style="stroke-width:0" textLength="9.6" lengthAdjust="spacingAndGlyphs">M</text>
<text class="ann" x="170.3" y="38.0" font-size="6.8" font-style="italic" style="stroke-width:0" textLength="7.8" lengthAdjust="spacingAndGlyphs">Ni</text>
<text class="ann" x="179.4" y="35.5" font-size="9.3" textLength="6.8" lengthAdjust="spacingAndGlyphs">=</text>
<text class="ann" x="187.2" y="35.5" font-size="9.3" textLength="22.2" lengthAdjust="spacingAndGlyphs">0.019</text>
<text class="ann" x="210.8" y="35.5" font-size="9.3" textLength="6.3" lengthAdjust="spacingAndGlyphs">±</text>
<text class="ann" x="217.7" y="35.5" font-size="9.3" textLength="22.2" lengthAdjust="spacingAndGlyphs">0.001</text>
<text class="ann" x="240.6" y="35.5" font-size="9.3" font-style="italic" style="stroke-width:0" textLength="9.6" lengthAdjust="spacingAndGlyphs">M</text>
<text class="ann" x="250.0" y="37.9" font-size="6.2">0</text>
<text class="grn" x="99.4" y="78.7" font-size="10.5" font-style="italic" style="stroke-width:0" textLength="3.6" lengthAdjust="spacingAndGlyphs">t</text>
<text class="grn" x="105.9" y="79.7" font-size="11.5" style="stroke:#008000;stroke-width:0.35px" textLength="5.8" lengthAdjust="spacingAndGlyphs">&lt;</text>
<text class="grn" x="111.9" y="78.7" font-size="10.5" font-style="italic" style="stroke-width:0" textLength="3.6" lengthAdjust="spacingAndGlyphs">t</text>
<text class="grn" x="115.8" y="80.60000000000001" font-size="7" font-style="italic" style="stroke-width:0" textLength="16.4" lengthAdjust="spacingAndGlyphs">break</text>
<text class="ann" x="161.2" y="142.2" font-size="10.5" font-style="italic" style="stroke-width:0" textLength="5.4" lengthAdjust="spacingAndGlyphs">χ</text>
<text class="ann" x="166.7" y="137.5" font-size="6.2">2</text>
<text class="ann" x="172.5" y="145.4" font-size="15" textLength="3.8" lengthAdjust="spacingAndGlyphs">/</text>
<text class="ann" x="177.0" y="142.5" font-size="9.3" font-style="italic" style="stroke-width:0" textLength="15.5" lengthAdjust="spacingAndGlyphs">dof</text>
<text class="ann" x="194.0" y="142.5" font-size="9.3" textLength="7.0" lengthAdjust="spacingAndGlyphs">=</text>
<text class="ann" x="201.6" y="142.5" font-size="9.3" textLength="16.9" lengthAdjust="spacingAndGlyphs">2.15</text>
<text class="ann" x="160.6" y="152.5" font-size="9.3" font-style="italic" style="stroke-width:0" textLength="7.4" lengthAdjust="spacingAndGlyphs">T</text>
<text class="ann" x="167.9" y="154.9" font-size="6.2">0</text>
<text class="ann" x="173.0" y="152.5" font-size="9.3" textLength="6.6" lengthAdjust="spacingAndGlyphs">=</text>
<text class="ann" x="180.6" y="152.5" font-size="9.3" textLength="26.6" lengthAdjust="spacingAndGlyphs">465.04</text>
<text class="ann" x="208.8" y="152.5" font-size="9.3" textLength="6.3" lengthAdjust="spacingAndGlyphs">±</text>
<text class="ann" x="215.8" y="152.5" font-size="9.3" textLength="22.4" lengthAdjust="spacingAndGlyphs">18.68</text>
<text class="ann" x="160.6" y="163.5" font-size="9.3" font-style="italic" style="stroke-width:0" textLength="9.6" lengthAdjust="spacingAndGlyphs">M</text>
<text class="ann" x="170.3" y="166.0" font-size="6.8" font-style="italic" style="stroke-width:0" textLength="7.8" lengthAdjust="spacingAndGlyphs">Ni</text>
<text class="ann" x="179.4" y="163.5" font-size="9.3" textLength="6.8" lengthAdjust="spacingAndGlyphs">=</text>
<text class="ann" x="187.2" y="163.5" font-size="9.3" textLength="22.2" lengthAdjust="spacingAndGlyphs">0.013</text>
<text class="ann" x="210.8" y="163.5" font-size="9.3" textLength="6.3" lengthAdjust="spacingAndGlyphs">±</text>
<text class="ann" x="217.7" y="163.5" font-size="9.3" textLength="22.2" lengthAdjust="spacingAndGlyphs">0.001</text>
<text class="ann" x="240.6" y="163.5" font-size="9.3" font-style="italic" style="stroke-width:0" textLength="9.6" lengthAdjust="spacingAndGlyphs">M</text>
<text class="ann" x="250.0" y="165.9" font-size="6.2">0</text>
<text class="grn" x="99.4" y="206.7" font-size="10.5" font-style="italic" style="stroke-width:0" textLength="3.6" lengthAdjust="spacingAndGlyphs">t</text>
<text class="grn" x="105.9" y="207.7" font-size="11.5" style="stroke:#008000;stroke-width:0.35px" textLength="5.8" lengthAdjust="spacingAndGlyphs">&gt;</text>
<text class="grn" x="111.9" y="206.7" font-size="10.5" font-style="italic" style="stroke-width:0" textLength="3.6" lengthAdjust="spacingAndGlyphs">t</text>
<text class="grn" x="115.8" y="208.6" font-size="7" font-style="italic" style="stroke-width:0" textLength="16.4" lengthAdjust="spacingAndGlyphs">break</text>
<text class="yl" transform="translate(8.7,103.0) rotate(-90)" x="0" y="0" font-size="10.4" textLength="91.6" lengthAdjust="spacingAndGlyphs">Luminosity (ergs/s)</text>
<text class="yl" transform="translate(8.9,237.2) rotate(-90)" x="0" y="0" font-size="12" textLength="104" lengthAdjust="spacingAndGlyphs">Luminosity (ergs/s)</text>
<text class="yl" x="153.4" y="260.6" font-size="11" textLength="76" lengthAdjust="spacingAndGlyphs" stroke="#000" stroke-width="0.25">MJD - 56496.9</text>
</svg>
</body></html>
